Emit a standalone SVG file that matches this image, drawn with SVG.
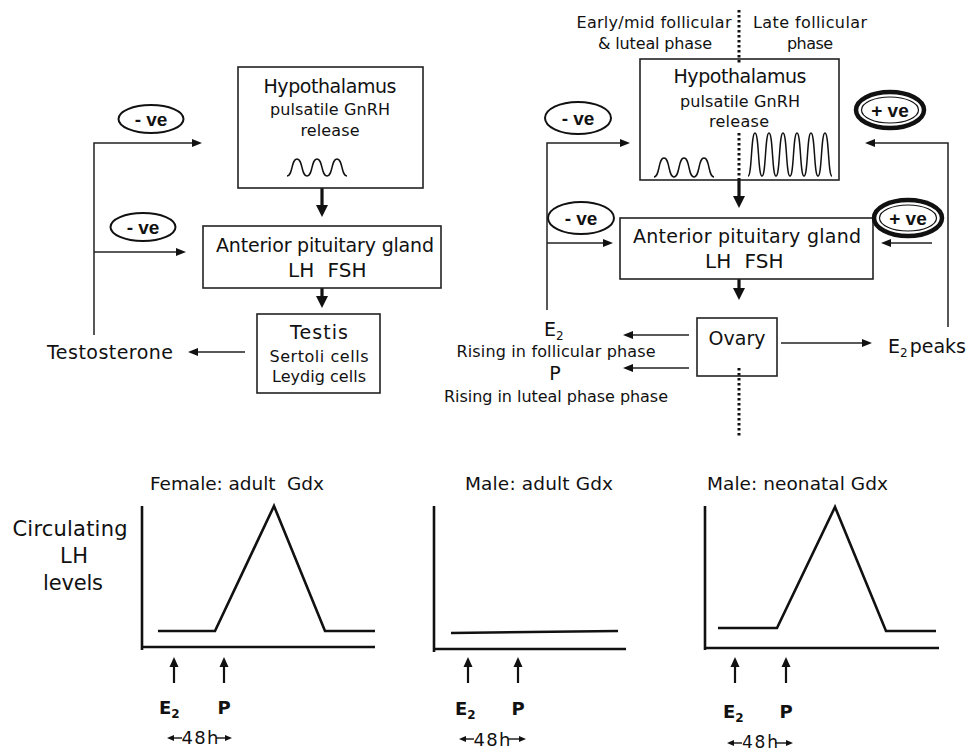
<svg xmlns="http://www.w3.org/2000/svg" width="968" height="752" viewBox="0 0 968 752">
<style>
text{font-family:"DejaVu Sans","Liberation Sans",sans-serif;fill:#111}
.box{fill:#fff;stroke:#222;stroke-width:1.6}
.ln{fill:none;stroke:#222;stroke-width:1.5}
.thick{fill:none;stroke:#111;stroke-width:3.2}
.ax{fill:none;stroke:#111;stroke-width:2.6}
.gar{fill:none;stroke:#111;stroke-width:2.2}
.dot{fill:none;stroke:#111;stroke-width:3;stroke-dasharray:2.5 2.5}
.pulse{fill:none;stroke:#111;stroke-width:1.5}
.big{font-size:19px}
.mid{font-size:16px}
.ttl{font-size:18.5px}
.lab{font-size:18px;font-weight:bold}
.lhfsh{font-size:20px;word-spacing:7px}
.ve{font-family:"Liberation Sans",Arial,sans-serif;font-weight:bold;font-size:19px}
.oval{fill:#fff;stroke:#111;stroke-width:2}
.oval2{fill:#fff;stroke:#111;stroke-width:4.5}
.oval3{fill:none;stroke:#111;stroke-width:1.2}
.c{text-anchor:middle}
</style>
<defs>
<marker id="a" markerUnits="userSpaceOnUse" markerWidth="11" markerHeight="9" refX="4" refY="4.5" orient="auto"><path d="M0,0.5 L10,4.5 L0,8.5z" fill="#111"/></marker>
<marker id="at" markerUnits="userSpaceOnUse" markerWidth="13" markerHeight="13" refX="4" refY="6.5" orient="auto"><path d="M0,0.5 L12,6.5 L0,12.5z" fill="#111"/></marker>
<marker id="ag" markerUnits="userSpaceOnUse" markerWidth="11" markerHeight="10" refX="4" refY="5" orient="auto"><path d="M0,0.5 L10,5 L0,9.5z" fill="#111"/></marker>
<marker id="as" markerUnits="userSpaceOnUse" markerWidth="8" markerHeight="7" refX="3" refY="3.5" orient="auto"><path d="M0,0.5 L7,3.5 L0,6.5z" fill="#111"/></marker>
</defs>

<!-- connectors -->
<g id="connectors">
  <path class="ln" d="M94,335 V143 H196" marker-end="url(#a)"/>
  <path class="ln" d="M94,252 H180" marker-end="url(#a)"/>
  <path class="ln" d="M245,352 H194" marker-end="url(#a)"/>
  <path class="thick" d="M322,188 V209" marker-end="url(#at)"/>
  <path class="thick" d="M322,277 V300" marker-end="url(#at)"/>

  <path class="ln" d="M547,310 V143 H624" marker-end="url(#a)"/>
  <path class="ln" d="M547,243 H607" marker-end="url(#a)"/>
  <path class="ln" d="M948,327 V143 H871" marker-end="url(#a)"/>
  <path class="ln" d="M932,243 H887" marker-end="url(#a)"/>
  <path class="thick" d="M739,180 V200" marker-end="url(#at)"/>
  <path class="thick" d="M739,268 V292" marker-end="url(#at)"/>
  <path class="ln" d="M781,343 H866" marker-end="url(#a)"/>
  <path class="ln" d="M689,335 H629" marker-end="url(#a)"/>
  <path class="ln" d="M689,368 H629" marker-end="url(#a)"/>
</g>

<!-- left (male) axis -->
<g id="hypothalamus-left">
  <rect class="box" x="238" y="67" width="185" height="121"/>
  <text class="big c" x="330" y="93" textLength="133">Hypothalamus</text>
  <text class="mid c" x="330" y="115" textLength="120">pulsatile GnRH</text>
  <text class="mid c" x="330" y="136" textLength="59">release</text>
  <path class="pulse" d="M287,176 C293,176 291,159 297,159 C303,159 301,176 307,176 C313,176 311,159 317,159 C323,159 321,176 327,176 C333,176 331,159 337,159 C343,159 341,176 347,176"/>
</g>
<g id="pituitary-left">
  <rect class="box" x="203" y="226" width="238" height="62"/>
  <text class="big c" x="325" y="252" textLength="218">Anterior pituitary gland</text>
  <text class="lhfsh" x="288" y="277">LH FSH</text>
</g>
<g id="testis">
  <rect class="box" x="257" y="314" width="123" height="79"/>
  <text class="big c" x="319" y="339" textLength="58">Testis</text>
  <text class="mid c" x="319" y="362" textLength="99">Sertoli cells</text>
  <text class="mid c" x="319" y="382" textLength="94">Leydig cells</text>
</g>
<g id="testosterone">
  <text class="big" x="47" y="359" textLength="126">Testosterone</text>
</g>
<g id="neg-left-1">
  <ellipse class="oval" cx="151" cy="119" rx="32.5" ry="14"/>
  <text class="ve c" x="151" y="126">- ve</text>
</g>
<g id="neg-left-2">
  <ellipse class="oval" cx="143" cy="227" rx="32.5" ry="14"/>
  <text class="ve c" x="143" y="234">- ve</text>
</g>

<!-- right (female) axis -->
<g id="phase-labels">
  <text class="mid c" x="654" y="28" textLength="155">Early/mid follicular</text>
  <text class="mid c" x="655" y="49" textLength="114">&amp; luteal phase</text>
  <text class="mid c" x="810" y="28" textLength="114">Late follicular</text>
  <text class="mid c" x="810" y="49" textLength="46">phase</text>
</g>
<g id="hypothalamus-right">
  <rect class="box" x="640" y="59" width="199" height="121"/>
  <text class="big c" x="740" y="83" textLength="133">Hypothalamus</text>
  <text class="mid c" x="740" y="107" textLength="120">pulsatile GnRH</text>
  <text class="mid c" x="739" y="127" textLength="60">release</text>
  <path class="pulse" d="M654,177 C660,177 658,158 664,158 C670,158 668,177 674,177 C680,177 678,158 684,158 C690,158 688,177 694,177 C700,177 698,158 704,158 C710,158 708,177 714,177"/>
  <path class="pulse" d="M748,176 C752,176 751,133 755,133 C759,133 758,176 762,176 C766,176 765,133 769,133 C773,133 772,176 776,176 C780,176 779,133 783,133 C787,133 786,176 790,176 C794,176 793,133 797,133 C801,133 800,176 804,176 C808,176 807,133 811,133 C815,133 814,176 818,176 C822,176 821,133 825,133 C829,133 828,176 832,176"/>
</g>
<g id="pituitary-right">
  <rect class="box" x="620" y="218" width="253" height="61"/>
  <text class="big c" x="747" y="243" textLength="228">Anterior pituitary gland</text>
  <text class="lhfsh" x="705" y="268">LH FSH</text>
</g>
<g id="ovary">
  <rect class="box" x="697" y="318" width="80" height="58"/>
  <text class="big c" x="737" y="345" textLength="57">Ovary</text>
</g>
<g id="divider">
  <path class="dot" d="M739,10 V63"/>
  <path class="dot" d="M739,133 V180"/>
  <path class="dot" d="M739,368 V436"/>
</g>
<g id="e2-peaks">
  <text class="big" x="888" y="353">E<tspan font-size="12" dy="4">2</tspan><tspan dy="-4" dx="2">peaks</tspan></text>
</g>
<g id="ovary-outputs">
  <text class="big" x="544" y="336">E<tspan font-size="12" dy="4">2</tspan></text>
  <text class="mid c" x="556" y="357" textLength="199">Rising in follicular phase</text>
  <text class="big c" x="555" y="380">P</text>
  <text class="mid c" x="556" y="402" textLength="224">Rising in luteal phase phase</text>
</g>
<g id="neg-right-1">
  <ellipse class="oval" cx="578" cy="118" rx="33" ry="16"/>
  <text class="ve c" x="578" y="125">- ve</text>
</g>
<g id="neg-right-2">
  <ellipse class="oval" cx="581" cy="218" rx="33" ry="16"/>
  <text class="ve c" x="581" y="225">- ve</text>
</g>
<g id="pos-right-1">
  <ellipse class="oval2" cx="890" cy="110" rx="34" ry="18"/>
  <ellipse class="oval3" cx="890" cy="110" rx="28.5" ry="13"/>
  <text class="ve c" x="890" y="117">+ ve</text>
</g>
<g id="pos-right-2">
  <ellipse class="oval2" cx="908" cy="218" rx="34" ry="18"/>
  <ellipse class="oval3" cx="908" cy="218" rx="28.5" ry="13"/>
  <text class="ve c" x="908" y="225">+ ve</text>
</g>

<!-- graphs -->
<g id="y-label">
  <text class="c" font-size="21" x="70" y="536" textLength="115">Circulating</text>
  <text class="c" font-size="21" x="74" y="563" textLength="28">LH</text>
  <text class="c" font-size="21" x="73" y="590" textLength="60">levels</text>
</g>
<g id="graph-female-adult">
  <text class="ttl" x="150" y="490" textLength="174" xml:space="preserve">Female: adult  Gdx</text>
  <path class="ax" d="M142,506 V650 M142,647 H375"/>
  <path class="ax" d="M158,631 H215 L274,506 L325,631 H375"/>
  <path class="gar" d="M174,683 V663" marker-end="url(#ag)"/>
  <path class="gar" d="M224,683 V663" marker-end="url(#ag)"/>
  <text class="lab" x="159" y="714">E<tspan font-size="12" dy="4">2</tspan></text>
  <text class="lab c" x="224" y="714">P</text>
  <path class="ln" d="M182,738 H171" marker-end="url(#as)"/>
  <path class="ln" d="M216,738 H228" marker-end="url(#as)"/>
  <text class="c" font-size="18" x="200" y="744" textLength="37">48h</text>
</g>
<g id="graph-male-adult">
  <text class="ttl" x="465" y="490" textLength="148">Male: adult Gdx</text>
  <path class="ax" d="M434,506 V652 M434,649 H626"/>
  <path class="ax" d="M451,633 L618,631"/>
  <path class="gar" d="M468,683 V663" marker-end="url(#ag)"/>
  <path class="gar" d="M518,683 V663" marker-end="url(#ag)"/>
  <text class="lab" x="455" y="715">E<tspan font-size="12" dy="4">2</tspan></text>
  <text class="lab c" x="518" y="715">P</text>
  <path class="ln" d="M474,739 H463" marker-end="url(#as)"/>
  <path class="ln" d="M508,739 H522" marker-end="url(#as)"/>
  <text class="c" font-size="18" x="492" y="746" textLength="37">48h</text>
</g>
<g id="graph-male-neonatal">
  <text class="ttl" x="707" y="490" textLength="181">Male: neonatal Gdx</text>
  <path class="ax" d="M705,506 V650 M705,648 H939"/>
  <path class="ax" d="M718,628 H777 L835,507 L886,631 H936"/>
  <path class="gar" d="M735,683 V663" marker-end="url(#ag)"/>
  <path class="gar" d="M786,683 V663" marker-end="url(#ag)"/>
  <text class="lab" x="723" y="718">E<tspan font-size="12" dy="4">2</tspan></text>
  <text class="lab c" x="786" y="718">P</text>
  <path class="ln" d="M742,743 H731" marker-end="url(#as)"/>
  <path class="ln" d="M775,743 H789" marker-end="url(#as)"/>
  <text class="c" font-size="17" x="760" y="748" textLength="36">48h</text>
</g>
</svg>
